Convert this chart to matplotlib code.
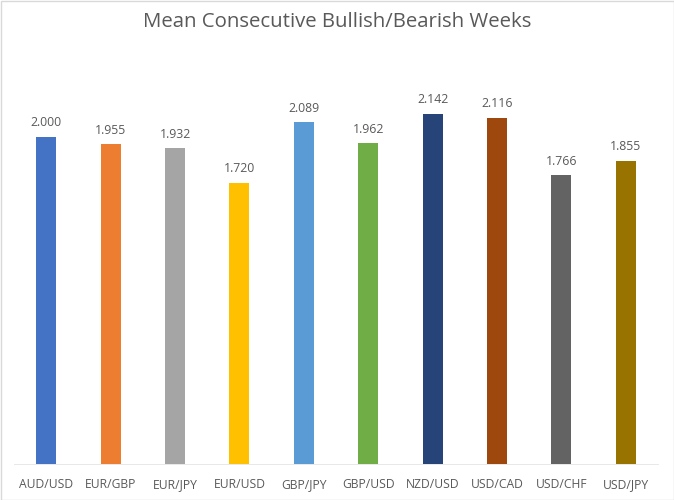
import matplotlib.pyplot as plt
from matplotlib.patches import Rectangle

pairs = ['AUD/USD', 'EUR/GBP', 'EUR/JPY', 'EUR/USD', 'GBP/JPY',
         'GBP/USD', 'NZD/USD', 'USD/CAD', 'USD/CHF', 'USD/JPY']
means = [2.000, 1.955, 1.932, 1.720, 2.089, 1.962, 2.142, 2.116, 1.766, 1.855]
colors = ['#4472C4', '#ED7D31', '#A5A5A5', '#FFC000', '#5B9BD5',
          '#70AD47', '#264478', '#9E480E', '#636363', '#997300']

plt.rcParams['font.family'] = ['Open Sans', 'DejaVu Sans']
text_color = '#595959'

fig = plt.figure(figsize=(6.74, 5.0), dpi=100)
# plot area in pixel terms: x 14..658, y 55..464 (from top)
ax = fig.add_axes([14 / 674, (500 - 464) / 500, 644 / 674, 409 / 500])

x = range(len(pairs))
ax.bar(x, means, width=0.31, color=colors)
for xi, v in zip(x, means):
    ax.text(xi, v + 0.045, f'{v:.3f}', ha='center', va='bottom',
            fontsize=8.8, color=text_color)

ax.set_xlim(-0.5, len(pairs) - 0.5)
ax.set_ylim(0, 2.5)
ax.set_yticks([])
ax.set_xticks(list(x))
ax.set_xticklabels(pairs, fontsize=8.7, color=text_color)
ax.tick_params(axis='x', length=0, pad=10)
for side in ['top', 'left', 'right']:
    ax.spines[side].set_visible(False)
ax.spines['bottom'].set_color('#E4E4E4')
ax.spines['bottom'].set_linewidth(0.6)

fig.text(0.5, 1 - 22 / 500, 'Mean Consecutive Bullish/Bearish Weeks',
         ha='center', va='center', fontsize=14.7, color=text_color)

# outer chart border
fig.patches.append(Rectangle((0.5 / 674, 0.5 / 500), 673 / 674, 499 / 500,
                             transform=fig.transFigure, fill=False,
                             edgecolor='#D9D9D9', linewidth=1))

fig.savefig('out.png', dpi=100, facecolor='white')
